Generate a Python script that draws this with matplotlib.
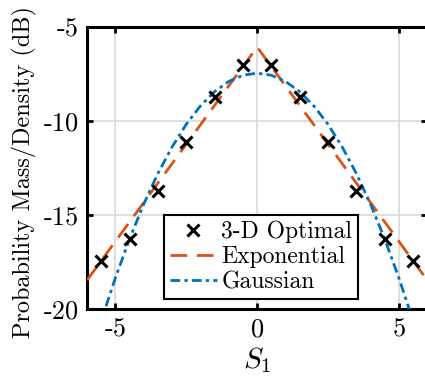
import matplotlib
matplotlib.use("Agg")
import matplotlib.pyplot as plt

# ------------------------------------------------------------------
# Data
# ------------------------------------------------------------------

S1_POINTS = [-5.5, -4.5, -3.5, -2.5, -1.5, -0.5, 0.5, 1.5, 2.5, 3.5, 4.5, 5.5]
OPTIMAL_DB = [-17.45, -16.28, -13.72, -11.12, -8.72, -7.0,
              -7.0, -8.72, -11.12, -13.72, -16.28, -17.45]

EXP_S1 = [-6.0, 0.0, 6.0]
EXP_DB = [-18.46, -6.06, -18.46]

GAUSS_S1 = [-6.0, -5.5, -5.0, -4.5, -4.0, -3.5, -3.0, -2.5, -2.0, -1.5, -1.0, -0.5,
            0.0, 0.5, 1.0, 1.5, 2.0, 2.5, 3.0, 3.5, 4.0, 4.5, 5.0, 5.5, 6.0]
GAUSS_DB = [-23.11, -20.61, -18.33, -16.26, -14.41, -12.78, -11.37, -10.17,
            -9.19, -8.43, -7.89, -7.56, -7.45, -7.56, -7.89, -8.43, -9.19,
            -10.17, -11.37, -12.78, -14.41, -16.26, -18.33, -20.61, -23.11]

X_TICKS = [-5, 0, 5]
Y_TICKS = [-20, -15, -10, -5]

# ------------------------------------------------------------------
# Style
# ------------------------------------------------------------------

plt.rcParams["font.family"] = "serif"
plt.rcParams["font.serif"] = ["cmr10"]
plt.rcParams["mathtext.fontset"] = "cm"
plt.rcParams["axes.unicode_minus"] = False

fig = plt.figure(figsize=(4.25, 3.82), dpi=100)
ax = fig.add_axes([0.205, 0.191, 0.80, 0.738])

ax.plot(S1_POINTS, OPTIMAL_DB, linestyle="none", marker="x", color="black",
        markersize=8, markeredgewidth=2.2, label="3-D Optimal", zorder=4)
ax.plot(EXP_S1, EXP_DB, color="#D95319", linewidth=2.0,
        dashes=(6, 3.5), label="Exponential", zorder=3)
ax.plot(GAUSS_S1, GAUSS_DB, color="#0072BD", linewidth=2.0,
        dashes=(3.5, 1.5, 1.2, 1.5), label="Gaussian", zorder=3)

ax.set_xlim(-6, 6)
ax.set_ylim(-20, -5)
ax.set_xticks(X_TICKS)
ax.set_xticklabels([str(v) for v in X_TICKS])
ax.set_yticks(Y_TICKS)
ax.set_yticklabels([str(v) for v in Y_TICKS])

ax.grid(True, color="#dcdcdc", linewidth=1.3)
ax.set_axisbelow(True)
ax.tick_params(direction="in", length=4, width=2.0, labelsize=19,
               top=True, right=True, pad=6)
for spine in ax.spines.values():
    spine.set_linewidth(2.2)

ax.set_xlabel(r"$S_1$", fontsize=21, labelpad=3)
ax.set_ylabel("Probability Mass/Density (dB)", fontsize=17.5)
ax.yaxis.set_label_coords(-0.148, 0.486)

leg = ax.legend(loc="lower left", bbox_to_anchor=(0.225, 0.035),
                fontsize=17, handlelength=2.0, handletextpad=0.2,
                labelspacing=0.12, borderpad=0.25, borderaxespad=0,
                fancybox=False, framealpha=1)
leg.get_frame().set_edgecolor("black")
leg.get_frame().set_linewidth(1.5)

fig.savefig("out.png", dpi=100)
